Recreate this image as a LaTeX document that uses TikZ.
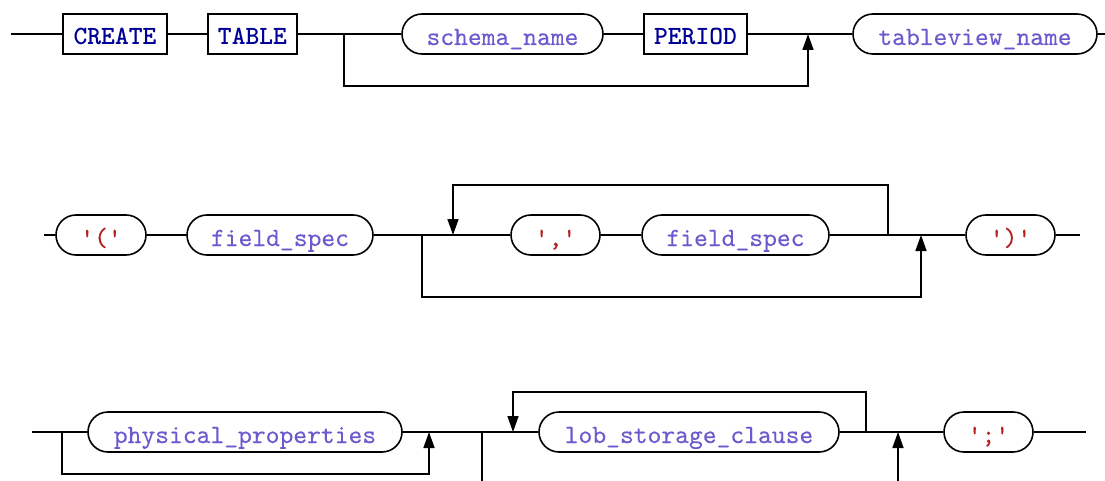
\documentclass[tikz,border=0pt]{standalone}
\usepackage{fontspec}
\usetikzlibrary{arrows.meta}
\definecolor{kwblue}{RGB}{0,0,150}
\definecolor{idblue}{RGB}{106,90,205}
\definecolor{litred}{RGB}{178,34,34}
\newfontfamily\railtt{lmmono10-regular.otf}[FakeBold=0.2]
\newfontfamily\railkw{lmmonolt10-bold.otf}
\newcommand{\railsize}{\fontsize{26.3}{30}\selectfont}
\newcommand{\q}{\textquotesingle}
\begin{document}
\begin{tikzpicture}[x=1pt,y=-1pt,line width=1.6pt,
  termbase/.style={draw,inner xsep=0pt,inner ysep=0pt,minimum height=40pt,
    text height=22pt,text depth=0pt,font=\railsize\railtt},
  kwbox/.style={termbase,rectangle,text=kwblue,font=\railsize\railkw},
  ntbox/.style={termbase,rounded corners=20pt,text=idblue},
  litbox/.style={termbase,rounded corners=20pt,text=litred},
  tip/.style={-{Triangle[length=16pt,width=11pt]}}]
\useasboundingbox (0,0) rectangle (1105,481);
\clip (0,0) rectangle (1105,481);

% ---- first line: CREATE TABLE [schema_name PERIOD] tableview_name
\node[kwbox,minimum width=104pt] (create) at (115,34) {CREATE};
\node[kwbox,minimum width=89pt]  (table)  at (252.5,34) {TABLE};
\node[ntbox,minimum width=201pt] (schema) at (502.5,34) {schema\_name};
\node[kwbox,minimum width=103pt] (period) at (695.5,34) {PERIOD};
\node[ntbox,minimum width=244pt] (tview)  at (975,34) {tableview\_name};

\coordinate (r1s) at (11,34);
\coordinate (r1e) at (1105,34);
\coordinate (b1a) at (344,34);
\coordinate (b1c) at (344,86);
\coordinate (b1d) at (808,86);
\coordinate (b1b) at (808,34);

\draw (r1s) -- (create);
\draw (create) -- (table);
\draw (table) -- (schema);
\draw (schema) -- (period);
\draw (period) -- (tview);
\draw (tview) -- (r1e);
\draw[tip] (b1a) -- (b1c) -- (b1d) -- (b1b);

% ---- second line: '(' field_spec { ',' field_spec } ')'
\node[litbox,minimum width=90pt]  (lp)    at (101,235) {\q(\q};
\node[ntbox,minimum width=186pt]  (fs1)   at (280,235) {field\_spec};
\node[litbox,minimum width=89pt]  (comma) at (555.5,235) {\q,\q};
\node[ntbox,minimum width=187pt]  (fs2)   at (735.5,235) {field\_spec};
\node[litbox,minimum width=89pt]  (rp)    at (1010.5,235) {\q)\q};

\coordinate (r2s) at (44,235);
\coordinate (r2e) at (1080,235);
\coordinate (b2a) at (422,235);
\coordinate (b2c) at (422,297);
\coordinate (b2d) at (921,297);
\coordinate (b2b) at (921,235);
\coordinate (l2a) at (888,235);
\coordinate (l2c) at (888,185);
\coordinate (l2d) at (453,185);
\coordinate (l2b) at (453,235);

\draw (r2s) -- (lp);
\draw (lp) -- (fs1);
\draw (fs1) -- (comma);
\draw (comma) -- (fs2);
\draw (fs2) -- (rp);
\draw (rp) -- (r2e);
\draw[tip] (b2a) -- (b2c) -- (b2d) -- (b2b);
\draw[tip] (l2a) -- (l2c) -- (l2d) -- (l2b);

% ---- third line: [physical_properties] { lob_storage_clause } ';'
\node[ntbox,minimum width=314pt]  (phys) at (245,432) {physical\_properties};
\node[ntbox,minimum width=300pt]  (lob)  at (689,432) {lob\_storage\_clause};
\node[litbox,minimum width=89pt]  (semi) at (988.5,432) {\q;\q};

\coordinate (r3s) at (32,432);
\coordinate (r3e) at (1086,432);
\coordinate (b3a) at (62,432);
\coordinate (b3c) at (62,474);
\coordinate (b3d) at (429,474);
\coordinate (b3b) at (429,432);
\coordinate (b4a) at (482,432);
\coordinate (b4c) at (482,500);
\coordinate (b4d) at (898,500);
\coordinate (b4b) at (898,432);
\coordinate (l3a) at (866,432);
\coordinate (l3c) at (866,392);
\coordinate (l3d) at (513,392);
\coordinate (l3b) at (513,432);

\draw (r3s) -- (phys);
\draw (phys) -- (lob);
\draw (lob) -- (semi);
\draw (semi) -- (r3e);
\draw[tip] (b3a) -- (b3c) -- (b3d) -- (b3b);
\draw[tip] (b4a) -- (b4c) -- (b4d) -- (b4b);
\draw[tip] (l3a) -- (l3c) -- (l3d) -- (l3b);
\end{tikzpicture}
\end{document}
